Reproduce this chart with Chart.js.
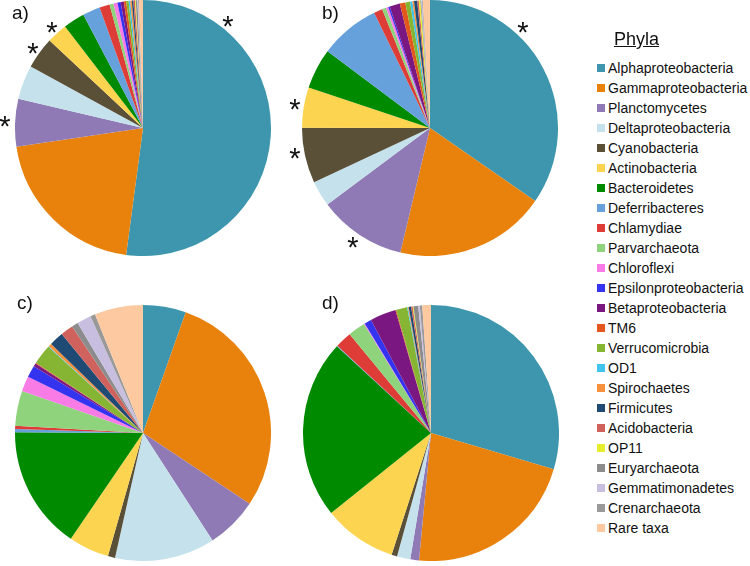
<!DOCTYPE html>
<html>
<head>
<meta charset="utf-8">
<script src="https://cdn.jsdelivr.net/npm/chart.js@4/dist/chart.umd.min.js"></script>
<style>
  html, body { margin: 0; padding: 0; background: #ffffff; }
  body { width: 750px; height: 566px; position: relative; overflow: hidden; font-family: "Liberation Sans", Arial, sans-serif; }
  .pie { position: absolute; width: 256px; height: 256px; }
  .pie canvas { display: block; }
  .lbl { position: absolute; font-size: 19px; color: #111; line-height: 1; }
  .star { position: absolute; font-size: 29px; color: #111; line-height: 1; width: 20px; text-align: center; }
  #title { position: absolute; left: 614px; top: 29px; font-size: 18px; text-decoration: underline; color: #111; }
  #legend { position: absolute; left: 597px; top: 58px; }
  .item { height: 20px; display: flex; align-items: center; font-size: 14px; color: #111; white-space: nowrap; }
  .sw { width: 8px; height: 8px; margin-right: 3px; flex: none; }
</style>
</head>
<body>
<div class="pie" style="left:15px; top:0px;"><canvas id="pa" width="256" height="256"></canvas></div>
<div class="pie" style="left:302px; top:0px;"><canvas id="pb" width="256" height="256"></canvas></div>
<div class="pie" style="left:15px; top:305px;"><canvas id="pc" width="256" height="256"></canvas></div>
<div class="pie" style="left:303px; top:305px;"><canvas id="pd" width="256" height="256"></canvas></div>

<div class="lbl" style="left:12px; top:3px;">a)</div>
<div class="lbl" style="left:322px; top:3px;">b)</div>
<div class="lbl" style="left:17px; top:293px;">c)</div>
<div class="lbl" style="left:322px; top:293px;">d)</div>

<div class="star" style="left:218px; top:12px;">*</div>
<div class="star" style="left:42px; top:18px;">*</div>
<div class="star" style="left:23px; top:39px;">*</div>
<div class="star" style="left:-5px; top:112px;">*</div>
<div class="star" style="left:513px; top:18px;">*</div>
<div class="star" style="left:285px; top:95px;">*</div>
<div class="star" style="left:285px; top:144px;">*</div>
<div class="star" style="left:343px; top:233px;">*</div>

<div id="title">Phyla</div>
<div id="legend"></div>

<script>
const categories = ["Alphaproteobacteria","Gammaproteobacteria","Planctomycetes","Deltaproteobacteria","Cyanobacteria","Actinobacteria","Bacteroidetes","Deferribacteres","Chlamydiae","Parvarchaeota","Chloroflexi","Epsilonproteobacteria","Betaproteobacteria","TM6","Verrucomicrobia","OD1","Spirochaetes","Firmicutes","Acidobacteria","OP11","Euryarchaeota","Gemmatimonadetes","Crenarchaeota","Rare taxa"];
const colors = ["#3d96ae","#e8820c","#8f7ab5","#c5e2ec","#5a5038","#fdd44f","#008a00","#66a1dc","#dd3c37","#8fd47d","#f87be6","#3434f0","#7a1780","#e2571b","#85b532","#40c4ec","#f7913d","#1f4a73","#d0625d","#e6ef2c","#8c8c8c","#c8bfe0","#999999","#fcc9a0"];
const valuesA = [52, 20.5, 6, 4.3, 4, 2.6, 2.7, 2.2, 1.3, 0.5, 0.5, 0.4, 0.4, 0.3, 0.3, 0.2, 0.2, 0.2, 0.2, 0.1, 0.2, 0.1, 0.1, 0.5];
const valuesB = [34.7, 19.1, 11.1, 3.25, 7, 5.1, 5.1, 7.6, 1.1, 0.5, 0.3, 0.2, 1.3, 0.7, 0.6, 0.3, 0.2, 0.4, 0.2, 0.2, 0.1, 0.1, 0.1, 0.9];
const valuesC = [5.4, 28.8, 6.5, 12.6, 0.9, 5.1, 15.5, 0.4, 0.4, 4.4, 1.9, 1.5, 0.4, 0.1, 2.5, 0.1, 0.4, 1.8, 1.6, 0, 0.8, 1.8, 0.6, 6.1];
const valuesD = [29.7, 22, 1.1, 1.7, 0.7, 9.3, 22.7, 0.1, 2.1, 2.2, 0.1, 0.9, 3.3, 0.1, 1.4, 0.1, 0.1, 0.3, 0.2, 0.1, 0.6, 0.2, 0.3, 1.1];

function makePie(id, values) {
  new Chart(document.getElementById(id), {
    type: 'pie',
    data: { labels: categories, datasets: [{ data: values, backgroundColor: colors, borderWidth: 0 }] },
    options: {
      responsive: false,
      animation: false,
      events: [],
      layout: { padding: 0 },
      plugins: { legend: { display: false }, tooltip: { enabled: false } }
    }
  });
}
makePie('pa', valuesA);
makePie('pb', valuesB);
makePie('pc', valuesC);
makePie('pd', valuesD);

const legend = document.getElementById('legend');
categories.forEach((c, i) => {
  const row = document.createElement('div');
  row.className = 'item';
  const sw = document.createElement('span');
  sw.className = 'sw';
  sw.style.background = colors[i];
  const t = document.createElement('span');
  t.textContent = c;
  row.appendChild(sw);
  row.appendChild(t);
  legend.appendChild(row);
});
</script>
</body>
</html>
